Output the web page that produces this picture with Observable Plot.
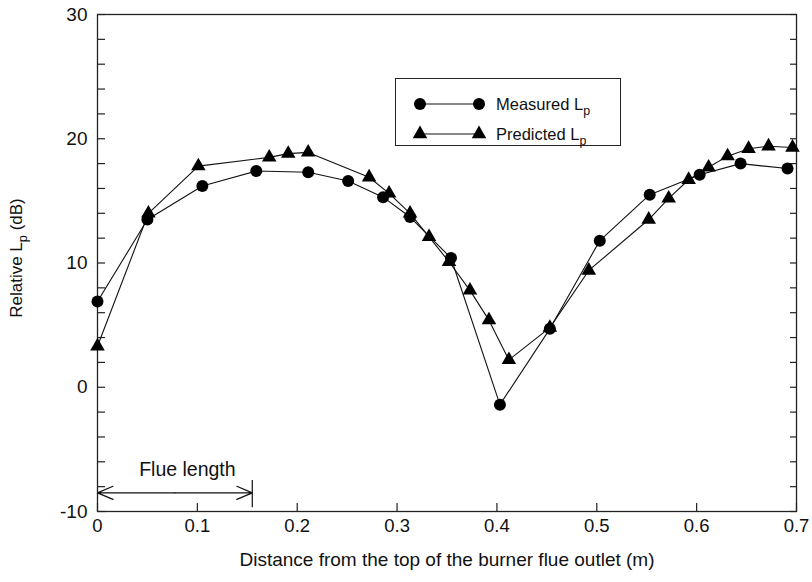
<!DOCTYPE html>
<html>
<head>
<meta charset="utf-8">
<script src="https://cdn.jsdelivr.net/npm/d3@7"></script>
<script src="https://cdn.jsdelivr.net/npm/@observablehq/plot@0.6"></script>
<style>
  html, body { margin: 0; padding: 0; background: #fff; }
  #wrap { position: relative; width: 812px; height: 582px; font-family: "Liberation Sans", Arial, sans-serif; }
  #legend { position: absolute; left: 395px; top: 78px; width: 224px; height: 66px; border: 1.2px solid #222; background: #fff; }
  #legend svg { position: absolute; left: 0; top: 0; overflow: visible; }
</style>
</head>
<body>
<div id="wrap"></div>
<script>
// Measured Lp (circles)
const measuredX = [0, 0.05, 0.105, 0.159, 0.211, 0.251, 0.286, 0.313, 0.354, 0.403, 0.453, 0.503, 0.553, 0.603, 0.644, 0.691];
const measuredY = [6.9, 13.5, 16.2, 17.4, 17.3, 16.6, 15.3, 13.7, 10.4, -1.4, 4.7, 11.8, 15.5, 17.1, 18.0, 17.6];
// Predicted Lp (triangles)
const predictedX = [0, 0.051, 0.101, 0.172, 0.191, 0.211, 0.272, 0.292, 0.313, 0.332, 0.352, 0.373, 0.392, 0.412, 0.453, 0.492, 0.552, 0.572, 0.592, 0.612, 0.631, 0.652, 0.672, 0.696];
const predictedY = [3.3, 14.0, 17.8, 18.5, 18.8, 18.9, 16.9, 15.6, 14.0, 12.1, 10.1, 7.8, 5.4, 2.2, 4.8, 9.4, 13.5, 15.2, 16.7, 17.7, 18.6, 19.2, 19.4, 19.3];

const xTicks = [0, 0.1, 0.2, 0.3, 0.4, 0.5, 0.6, 0.7];
const yTicks = [-10, 0, 10, 20, 30];
const yMinorTicks = [-8, -6, -4, -2, 2, 4, 6, 8, 12, 14, 16, 18, 22, 24, 26, 28];
const xLabel = "Distance from the top of the burner flue outlet (m)";
const yLabel = "Relative L_p (dB)";
const flueLength = 0.155;
const flueArrowY = -8.5;
const flueLabel = "Flue length";
const flueLabelX = 0.09;
const flueLabelY = -6.6;
const flueBarY = [-7.5, -9.7];

const measured = measuredX.map((x, i) => ({x, y: measuredY[i]}));
const predicted = predictedX.map((x, i) => ({x, y: predictedY[i]}));

const W = 812, H = 582;
const mL = 97, mR = 16, mT = 14, mB = 71;
const pw = W - mL - mR, ph = H - mT - mB;
const tick = 8;
const font = '"Liberation Sans", Arial, sans-serif';

const chart = Plot.plot({
  width: W, height: H,
  marginLeft: mL, marginRight: mR, marginTop: mT, marginBottom: mB,
  style: {fontFamily: font, fontSize: "17px", color: "#111", background: "#fff"},
  x: {domain: [0, 0.7], axis: null},
  y: {domain: [-10, 30], axis: null},
  marks: [
    Plot.frame({stroke: "#222", strokeWidth: 1.3}),
    // tick labels
    Plot.text(xTicks, {x: d => d, frameAnchor: "bottom", dy: 20, text: d => String(d), fontSize: 18.5, fill: "#111"}),
    Plot.text(yTicks, {y: d => d, frameAnchor: "left", textAnchor: "end", dx: -10, text: d => String(d), fontSize: 19, fill: "#111"}),
    // axis titles
    Plot.text([xLabel], {text: d => d, frameAnchor: "bottom", dy: 54, fontSize: 19, fill: "#111"}),
    Plot.text([yLabel], {text: d => d, frameAnchor: "left", textAnchor: "middle", dx: -81, dy: -5, rotate: -90, fontSize: 17, fill: "#111"}),
    // inward ticks
    Plot.tickX(xTicks, {x: d => d, insetTop: ph - tick, stroke: "#222", strokeWidth: 1.2}),
    Plot.tickY(yTicks.concat(yMinorTicks), {y: d => d, insetRight: pw - tick, stroke: "#222", strokeWidth: 1.2}),
    Plot.tickY(yTicks.concat(yMinorTicks), {y: d => d, insetLeft: pw - 6, stroke: "#222", strokeWidth: 1.2}),
    // data
    Plot.line(measured, {x: "x", y: "y", stroke: "#111", strokeWidth: 1.1}),
    Plot.line(predicted, {x: "x", y: "y", stroke: "#111", strokeWidth: 1.1}),
    Plot.dot(measured, {x: "x", y: "y", r: 6, fill: "#000", stroke: "none"}),
    Plot.dot(predicted, {x: "x", y: "y", r: 5.4, symbol: "triangle", fill: "#000", stroke: "none"}),
    // flue length annotation
    Plot.arrow([{a: flueLength / 2, b: 0}, {a: flueLength / 2, b: flueLength}], {
      x1: "a", x2: "b", y1: () => flueArrowY, y2: () => flueArrowY,
      stroke: "#111", strokeWidth: 1.2, headLength: 21, headAngle: 46, bend: false}),
    Plot.ruleX([flueLength], {x: d => d, y1: flueBarY[0], y2: flueBarY[1], stroke: "#111", strokeWidth: 1.2}),
    Plot.text([flueLabel], {x: flueLabelX, y: flueLabelY, text: d => d, fontSize: 19.5, fill: "#111"})
  ]
});

// subscript p
function subP(root, shift) {
  root.querySelectorAll("text").forEach(t => {
    const s = t.textContent;
    if (s.includes("L_p")) {
      const [a, b] = s.split("L_p");
      t.textContent = "";
      const ns = "http://www.w3.org/2000/svg";
      const t1 = document.createElementNS(ns, "tspan"); t1.textContent = a + "L"; t.appendChild(t1);
      const t2 = document.createElementNS(ns, "tspan"); t2.textContent = "p"; t2.setAttribute("dy", String(shift)); t2.setAttribute("font-size", "0.75em"); t.appendChild(t2);
      if (b) { const t3 = document.createElementNS(ns, "tspan"); t3.textContent = b; t3.setAttribute("dy", String(-shift)); t.appendChild(t3); }
    }
  });
}
subP(chart, 5);

const wrap = document.getElementById("wrap");
wrap.appendChild(chart);

// legend
const legendItems = [
  {label: "Measured L_p", symbol: d3.symbolCircle, size: Math.PI * 36},
  {label: "Predicted L_p", symbol: d3.symbolTriangle, size: Math.PI * 5.4 * 5.4}
];
const lg = document.createElement("div");
lg.id = "legend";
const lsvg = d3.create("svg").attr("width", 224).attr("height", 66)
  .style("font-family", font).style("font-size", "16.5px");
legendItems.forEach((it, i) => {
  const cy = 25 + i * 30;
  const g = lsvg.append("g");
  g.append("line").attr("x1", 24).attr("x2", 83).attr("y1", cy).attr("y2", cy).attr("stroke", "#111").attr("stroke-width", 1.1);
  [24, 83].forEach(px => g.append("path").attr("d", d3.symbol(it.symbol, it.size)()).attr("transform", `translate(${px},${cy})`).attr("fill", "#000"));
  g.append("text").attr("x", 100).attr("y", cy).attr("dy", "0.35em").attr("fill", "#111").text(it.label);
});
subP(lsvg.node(), 5);
lg.appendChild(lsvg.node());
wrap.appendChild(lg);
</script>
</body>
</html>
